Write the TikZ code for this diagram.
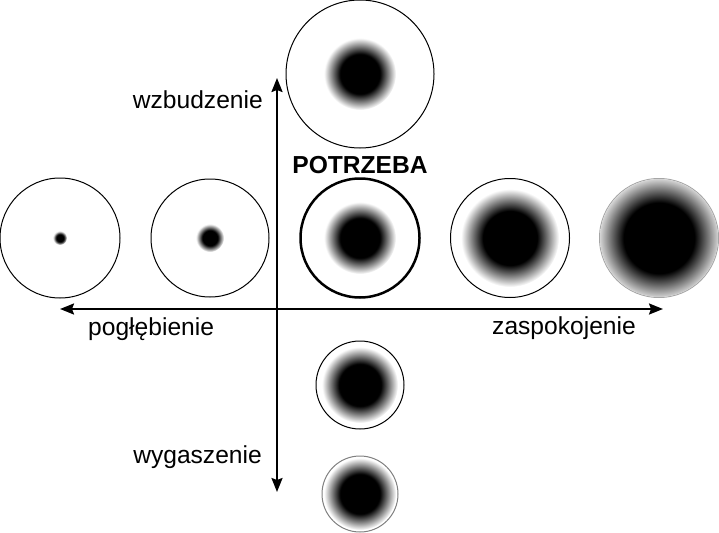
\documentclass[tikz,border=0pt]{standalone}
\usepackage{fontspec}
\setmainfont{Liberation Sans}
\usetikzlibrary{arrows.meta}

% schwarzer Kern mit weichem Rand
\pgfdeclareradialshading{kern}{\pgfpointorigin}{color(0bp)=(black); color(13.8bp)=(black); color(25bp)=(white); color(50bp)=(white)}

\tikzset{
  ring/.style={circle, draw, line width=1pt, inner sep=0pt, minimum size=#1},
  blob/.style={shading=kern},
  lbl/.style={inner sep=0pt, font=\fontsize{24.6}{28}\selectfont},
}

\begin{document}
\begin{tikzpicture}[x=1pt, y=-1pt, >={Stealth[length=14pt, width=11pt, inset=2pt]}]
\useasboundingbox (0,0) rectangle (719,532);

% Achsen
\coordinate (gora) at (277,78);
\coordinate (dol) at (277,492);
\coordinate (lewo) at (60,309);
\coordinate (prawo) at (663,309);
\draw[<->, line width=2pt] (dol) -- (gora);
\draw[<->, line width=2pt] (lewo) -- (prawo);

% Kreis oben
\node[ring=148] (wzb) at (360,74) {};

% mittlere Reihe
\node[ring=120] (p1) at (60,238) {};
\node[ring=118] (p2) at (210,238) {};
\node[ring=119, line width=2.5pt] (potrzeba) at (360,238) {};
\node[ring=119] (p4) at (510,238) {};
\node[ring=119, draw=gray!70] (p5) at (659,238) {};

% Kreise unten
\node[ring=88] (wyg1) at (360,385) {};
\node[ring=76, draw=gray] (wyg2) at (360,494) {};

% Kerne
\shade[blob] (wzb.center) circle[radius=36];
\shade[blob] (p1.center) circle[radius=7];
\shade[blob] (p2.center) circle[radius=14];
\shade[blob] (potrzeba.center) circle[radius=36];
\shade[blob] (p4.center) circle[radius=49];
\begin{scope}
  \clip (p5.center) circle[radius=59];
  \shade[blob] (p5.center) circle[radius=64];
\end{scope}
\shade[blob] (wyg1.center) circle[radius=38];
\shade[blob] (wyg2.center) circle[radius=36];

% Beschriftungen
\node[lbl, font=\fontsize{24.6}{28}\selectfont\bfseries, anchor=base] (potL) at (360,173) {POTRZEBA};
\node[lbl, anchor=base east] (wzbL) at (263,109) {wzbudzenie};
\node[lbl, anchor=base east] (wygL) at (262,463) {wygaszenie};
\node[lbl, anchor=base west] (pogL) at (88,335) {pogłębienie};
\node[lbl, anchor=base west] (zasL) at (492,334) {zaspokojenie};

\end{tikzpicture}
\end{document}
